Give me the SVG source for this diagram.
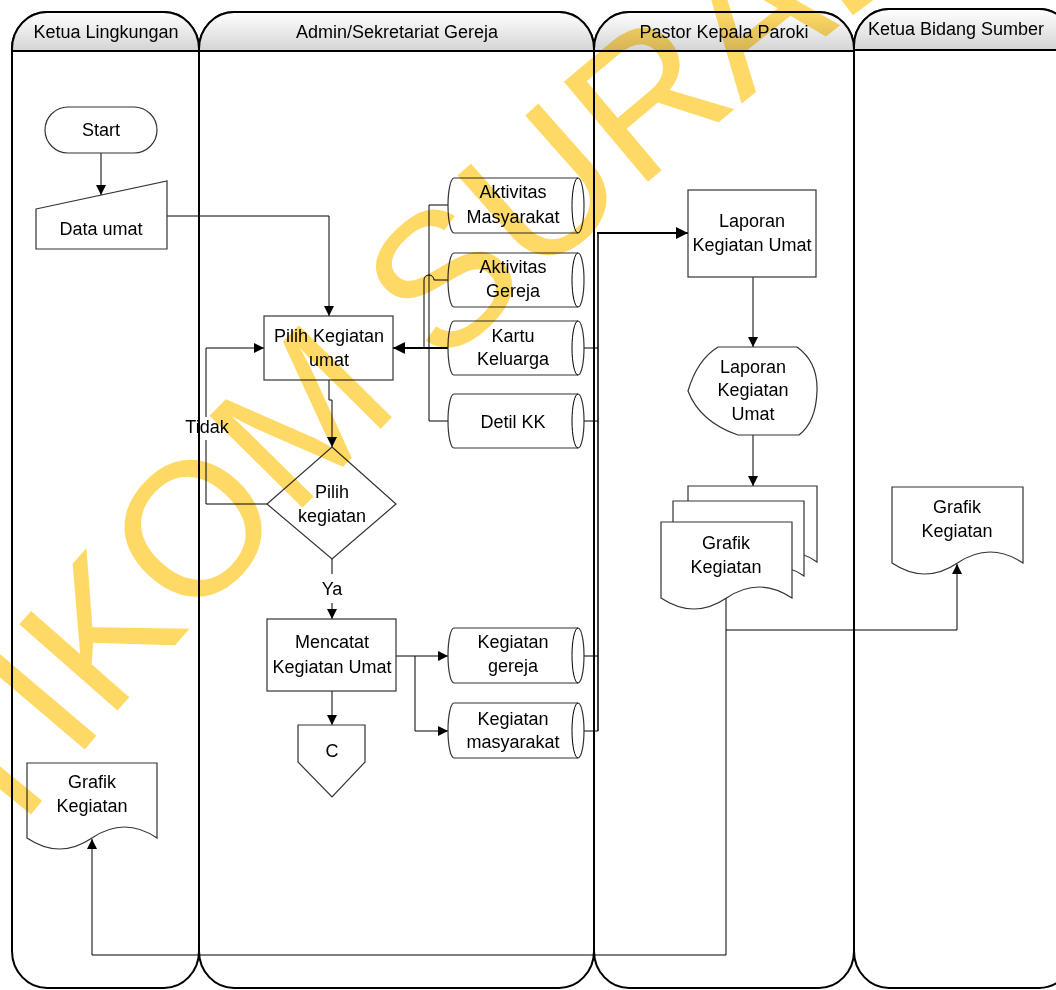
<svg xmlns="http://www.w3.org/2000/svg" width="1056" height="990" viewBox="0 0 1056 990">
<defs>
<linearGradient id="hg" x1="0" y1="0" x2="0" y2="1">
<stop offset="0" stop-color="#ffffff"/>
<stop offset="1" stop-color="#d4d4d4"/>
</linearGradient>
<marker id="ah" markerUnits="userSpaceOnUse" markerWidth="11" markerHeight="11" refX="10" refY="5" orient="auto">
<path d="M0,0 L10,5 L0,10 Z" fill="#000"/>
</marker>
<marker id="ahb" markerUnits="userSpaceOnUse" markerWidth="13" markerHeight="13" refX="12" refY="6" orient="auto">
<path d="M0,0 L12,6 L0,12 Z" fill="#000"/>
</marker>
<path id="wmp" d="M-171,1079 A5000,5000 0 0 1 1197,-227"/>
</defs>
<style>
.lane{fill:#fff;stroke:#000;stroke-width:2}
.hdr{fill:url(#hg);stroke:#000;stroke-width:2}
.node{fill:#fff;stroke:#333;stroke-width:1.2}
.ln{fill:none;stroke:#000;stroke-width:1}
.thick{stroke-width:2}
.t{font-family:"Liberation Sans",Arial,sans-serif;font-size:18px;fill:#000;text-anchor:middle}
.wm{font-family:"Liberation Sans",Arial,sans-serif;font-size:190px;fill:#FFD966}
</style>
<rect width="1056" height="990" fill="#fff"/>
<g id="lanes">
<g id="lane1">
<rect class="lane" x="12" y="12" width="187" height="976" rx="35" ry="37"/>
<path class="hdr" d="M12,51 V49 A35,37 0 0 1 47,12 H164 A35,37 0 0 1 199,49 V51 Z"/>
<text class="t" x="106" y="38">Ketua Lingkungan</text>
</g>
<g id="lane2">
<rect class="lane" x="199" y="12" width="395" height="976" rx="35" ry="37"/>
<path class="hdr" d="M199,51 V49 A35,37 0 0 1 234,12 H559 A35,37 0 0 1 594,49 V51 Z"/>
<text class="t" x="397" y="38">Admin/Sekretariat Gereja</text>
</g>
<g id="lane3">
<rect class="lane" x="594" y="12" width="260" height="976" rx="35" ry="37"/>
<path class="hdr" d="M594,51 V49 A35,37 0 0 1 629,12 H819 A35,37 0 0 1 854,49 V51 Z"/>
<text class="t" x="724" y="38">Pastor Kepala Paroki</text>
</g>
<g id="lane4">
<rect class="lane" x="854" y="9" width="220" height="979" rx="35" ry="37"/>
<path class="hdr" d="M854,50 V46 A35,37 0 0 1 889,9 H1039 A35,37 0 0 1 1074,46 V50 Z"/>
<text class="t" x="956" y="35">Ketua Bidang Sumber</text>
</g>
</g>
<g id="connectors">
<path class="ln" d="M101,153 V195" marker-end="url(#ah)"/>
<path class="ln" d="M167,216 H329 V316" marker-end="url(#ah)"/>
<path class="ln" d="M329,380 V400 H332 V447" marker-end="url(#ah)"/>
<path class="ln" d="M267,504 H206 V440"/>
<path class="ln" d="M206,417 V348 H264" marker-end="url(#ah)"/>
<path class="ln" d="M332,559 V574"/>
<path class="ln" d="M332,603 V619" marker-end="url(#ah)"/>
<path class="ln" d="M332,691 V725" marker-end="url(#ah)"/>
<path class="ln" d="M396,656 H448" marker-end="url(#ah)"/>
<path class="ln" d="M415,656 V731 H448" marker-end="url(#ah)"/>
<path class="ln" d="M448,205 H429 V421 H448"/>
<path class="ln" d="M448,280 H434 A5,5 0 0 0 424,280 V348"/>
<path class="ln thick" d="M448,348 H393" marker-end="url(#ahb)"/>
<path class="ln" d="M584,348 H598 M584,421 H598 M584,656 H598 M578,731 H598"/>
<path class="ln" d="M598,731 V233" style="stroke-width:1.5"/>
<path class="ln thick" d="M597,233 H688" marker-end="url(#ahb)"/>
<path class="ln" d="M753,277 V347" marker-end="url(#ah)"/>
<path class="ln" d="M753,435 V486" marker-end="url(#ah)"/>
<path class="ln" d="M726,598 V630 H957 V564" marker-end="url(#ah)"/>
<path class="ln" d="M726,630 V955 H92 V839" marker-end="url(#ah)"/>
</g>
<g id="start">
<rect class="node" x="45" y="107" width="112" height="46" rx="23" ry="23"/>
<text class="t" x="101" y="136">Start</text>
</g>
<g id="data-umat">
<path class="node" d="M36,209 L167,181 V249 H36 Z"/>
<text class="t" x="101" y="235">Data umat</text>
</g>
<g id="pilih-kegiatan-umat">
<rect class="node" x="264" y="316" width="129" height="64"/>
<text class="t" x="329" y="342">Pilih Kegiatan</text>
<text class="t" x="329" y="366">umat</text>
</g>
<g id="tidak-label">
<text class="t" x="207" y="433">Tidak</text>
</g>
<g id="pilih-kegiatan-decision">
<path class="node" d="M332,447 L396,504 L332,559 L267,504 Z"/>
<text class="t" x="332" y="498">Pilih</text>
<text class="t" x="332" y="522">kegiatan</text>
</g>
<g id="ya-label">
<text class="t" x="332" y="595">Ya</text>
</g>
<g id="mencatat">
<rect class="node" x="267" y="619" width="129" height="72"/>
<text class="t" x="332" y="648">Mencatat</text>
<text class="t" x="332" y="673">Kegiatan Umat</text>
</g>
<g id="connector-c">
<path class="node" d="M298,725 H365 V762 L332,797 L298,762 Z"/>
<text class="t" x="332" y="757">C</text>
</g>
<g id="aktivitas-masyarakat">
<path class="node" d="M454,178 H578 A6,27.5 0 0 1 578,233 H454 A6,27.5 0 0 1 454,178 Z"/>
<path class="ln" d="M578,233 A6,27.5 0 0 1 578,178"/>
<text class="t" x="513" y="198">Aktivitas</text>
<text class="t" x="513" y="223">Masyarakat</text>
</g>
<g id="aktivitas-gereja">
<path class="node" d="M454,253 H578 A6,27 0 0 1 578,307 H454 A6,27 0 0 1 454,253 Z"/>
<path class="ln" d="M578,307 A6,27 0 0 1 578,253"/>
<text class="t" x="513" y="273">Aktivitas</text>
<text class="t" x="513" y="297">Gereja</text>
</g>
<g id="kartu-keluarga">
<path class="node" d="M454,321 H578 A6,27 0 0 1 578,375 H454 A6,27 0 0 1 454,321 Z"/>
<path class="ln" d="M578,375 A6,27 0 0 1 578,321"/>
<text class="t" x="513" y="342">Kartu</text>
<text class="t" x="513" y="365">Keluarga</text>
</g>
<g id="detil-kk">
<path class="node" d="M454,394 H578 A6,27 0 0 1 578,448 H454 A6,27 0 0 1 454,394 Z"/>
<path class="ln" d="M578,448 A6,27 0 0 1 578,394"/>
<text class="t" x="513" y="428">Detil KK</text>
</g>
<g id="kegiatan-gereja">
<path class="node" d="M454,628 H578 A6,27.5 0 0 1 578,683 H454 A6,27.5 0 0 1 454,628 Z"/>
<path class="ln" d="M578,683 A6,27.5 0 0 1 578,628"/>
<text class="t" x="513" y="648">Kegiatan</text>
<text class="t" x="513" y="672">gereja</text>
</g>
<g id="kegiatan-masyarakat">
<path class="node" d="M454,703 H578 A6,27.5 0 0 1 578,758 H454 A6,27.5 0 0 1 454,703 Z"/>
<path class="ln" d="M578,758 A6,27.5 0 0 1 578,703"/>
<text class="t" x="513" y="725">Kegiatan</text>
<text class="t" x="513" y="748">masyarakat</text>
</g>
<g id="laporan-box">
<rect class="node" x="688" y="190" width="128" height="87"/>
<text class="t" x="752" y="227">Laporan</text>
<text class="t" x="752" y="251">Kegiatan Umat</text>
</g>
<g id="laporan-display">
<path class="node" d="M718,347 H797 Q818,362 817,391 Q816,422 799,435 H738 Q700,422 688,391 Q697,360 718,347 Z"/>
<text class="t" x="753" y="373">Laporan</text>
<text class="t" x="753" y="396">Kegiatan</text>
<text class="t" x="753" y="420">Umat</text>
</g>
<g id="grafik-multi">
<path class="node" d="M688,486 H817 V562 Q785,540 752.5,562 T688,562 Z"/>
<path class="node" d="M673,501 H804 V576 Q771,554 738.5,576 T673,576 Z"/>
<path class="node" d="M661,522 H792 V598 Q759,576 726.5,598 T661,598 Z"/>
<text class="t" x="726" y="549">Grafik</text>
<text class="t" x="726" y="573">Kegiatan</text>
</g>
<g id="grafik-bidang">
<path class="node" d="M892,487 H1023 V563 Q990,541 957.5,563 T892,563 Z"/>
<text class="t" x="957" y="513">Grafik</text>
<text class="t" x="957" y="537">Kegiatan</text>
</g>
<g id="grafik-lingkungan">
<path class="node" d="M27,763 H157 V838 Q124.5,816 92,838 T27,838 Z"/>
<text class="t" x="92" y="788">Grafik</text>
<text class="t" x="92" y="812">Kegiatan</text>
</g>
<g id="watermark" style="mix-blend-mode:multiply">
<text class="wm"><textPath href="#wmp" startOffset="157">STIKOM SURABAYA</textPath></text>
</g>
</svg>
